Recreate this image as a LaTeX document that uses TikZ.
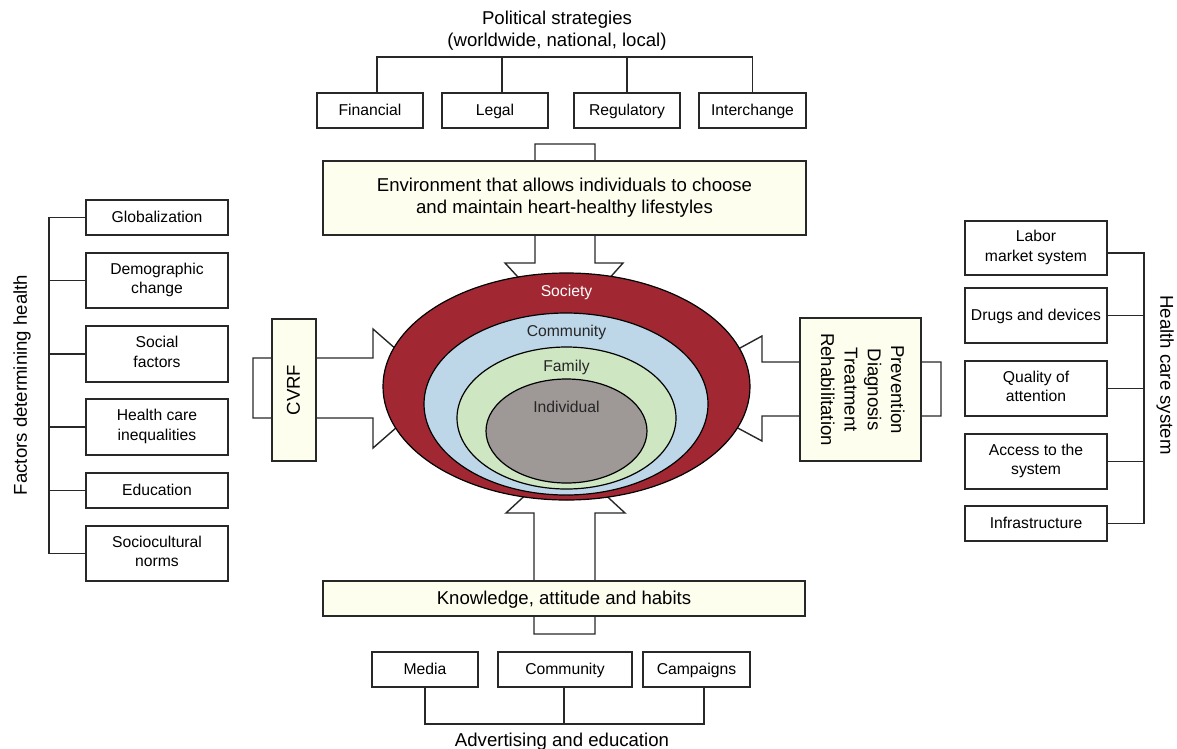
\documentclass[tikz,border=0pt]{standalone}
\usepackage{fontspec}
\setmainfont{Liberation Sans}
\usetikzlibrary{shapes.geometric}
\definecolor{cream}{RGB}{254,254,238}
\definecolor{soc}{RGB}{161,40,51}
\definecolor{com}{RGB}{189,214,232}
\definecolor{fam}{RGB}{206,230,194}
\definecolor{ind}{RGB}{158,153,150}
\definecolor{ln}{RGB}{40,40,40}
\newcommand{\sst}{\rule[-0.26em]{0pt}{1.14em}}
\begin{document}
\begin{tikzpicture}[x=1pt,y=-1pt,
  every node/.style={inner sep=0pt, outer sep=0pt},
  strutted/.style={execute at begin node={\sst}, execute at end node={\sst}},
  big/.style={font=\fontsize{18.6}{22.5}\selectfont, align=center, strutted},
  sm/.style={font=\fontsize{15.7}{19.5}\selectfont, align=center, strutted},
  box/.style={draw=ln, line width=1.4pt, fill=white, sm, inner sep=2pt},
  cbox/.style={draw=ln, line width=1.4pt, fill=cream, big, inner sep=2pt},
  conn/.style={draw=ln, line width=1.4pt},
  blk/.style={draw=ln, line width=1.4pt, fill=white, line join=miter},
  ring/.style={ellipse, draw=black, line width=1.2pt, inner sep=0pt},
]
\useasboundingbox (0,0) rectangle (1177,748);

% ---------- block arrows (behind boxes and rings)
\draw[blk] (535,144) -- (595,144) -- (595,263) -- (623,263) -- (565,328) -- (505,263) -- (535,263) -- cycle;
\draw[blk] (534,634) -- (595,634) -- (595,513) -- (625,513) -- (565.5,458) -- (506,513) -- (534,513) -- cycle;
\draw[blk] (253,358) -- (373,358) -- (373,329) -- (441,388.5) -- (373,448) -- (373,418) -- (253,418) -- cycle;
\draw[blk] (941,362) -- (762,362) -- (762,336) -- (665,389) -- (762,441) -- (762,416) -- (941,416) -- cycle;

% ---------- central boxes
\node[cbox, minimum width=483pt, minimum height=74pt] (env) at (564.5,198)
  {Environment that allows individuals to choose\\and maintain heart-healthy lifestyles};
\node[cbox, minimum width=482pt, minimum height=35pt] (kno) at (564,598.5)
  {Knowledge, attitude and habits};
\node[cbox, minimum width=142pt, minimum height=44pt, rotate=90] (cvrf) at (294,390) {CVRF};
\node[cbox, minimum width=143pt, minimum height=121pt, rotate=-90,
      font=\fontsize{18.6}{23.3}\selectfont] (pdtr) at (860.5,389.5)
  {Prevention\\Diagnosis\\Treatment\\Rehabilitation};

% ---------- rings
\node[ring, fill=soc, minimum width=367pt, minimum height=227pt] (rs) at (566.5,386.5) {};
\node[ring, fill=com, minimum width=284pt, minimum height=182pt] (rc) at (566,404) {};
\node[ring, fill=fam, minimum width=219pt, minimum height=142pt] (rf) at (566.5,418) {};
\node[ring, fill=ind, minimum width=161pt, minimum height=104pt] (ri) at (566.5,431) {};
\node[sm, text=white] (ls) at (566.5,292) {Society};
\node[sm, text=black!85] (lc) at (566.5,332) {Community};
\node[sm, text=black!85] (lf) at (566.5,367) {Family};
\node[sm, text=black!85] (li) at (566.5,408) {Individual};

% ---------- political strategies
\node[big] (pol) at (557,31) {Political strategies\\(worldwide, national, local)};
\node[box, minimum width=106pt, minimum height=35pt] (fin) at (370,110.5) {Financial};
\node[box, minimum width=106pt, minimum height=35pt] (leg) at (495,110.5) {Legal};
\node[box, minimum width=106pt, minimum height=35pt] (reg) at (627,110.5) {Regulatory};
\node[box, minimum width=107pt, minimum height=35pt] (itc) at (752.5,110.5) {Interchange};
\draw[conn] ([xshift=7pt]fin.north) -- ++(0,-36) -| (itc.north);
\draw[conn] ([xshift=7pt]leg.north) -- ++(0,-36);
\draw[conn] (reg.north) -- ++(0,-36);

% ---------- advertising and education
\node[box, minimum width=106pt, minimum height=35pt] (med) at (425,669.5) {Media};
\node[box, minimum width=134pt, minimum height=35pt] (cmb) at (565,669.5) {Community};
\node[box, minimum width=107pt, minimum height=35pt] (cmp) at (696.5,669.5) {Campaigns};
\draw[conn] (med.south) -- ++(0,37) -| ([xshift=7.5pt]cmp.south);
\draw[conn] ([xshift=-1pt]cmb.south) -- ++(0,37);
\node[font=\fontsize{18.6}{22.5}\selectfont, anchor=base] (adv) at (562,746) {Advertising and education};

% ---------- factors determining health
\node[box, minimum width=142pt, minimum height=35pt] (glo) at (157,217.5) {Globalization};
\node[box, minimum width=142pt, minimum height=55pt] (dem) at (157,280.5) {Demographic\\change};
\node[box, minimum width=142pt, minimum height=56pt] (sof) at (157,354) {Social\\factors};
\node[box, minimum width=142pt, minimum height=56pt] (hci) at (157,427) {Health care\\inequalities};
\node[box, minimum width=142pt, minimum height=35pt] (edu) at (157,490.5) {Education};
\node[box, minimum width=142pt, minimum height=55pt] (scn) at (157,553.5) {Sociocultural\\norms};
\coordinate (lb) at (49,0);
\draw[conn] (glo.west) -- (glo.west -| lb) -- (scn.west -| lb) -- (scn.west);
\draw[conn] (dem.west) -- (dem.west -| lb);
\draw[conn] (sof.west) -- (sof.west -| lb);
\draw[conn] (hci.west) -- (hci.west -| lb);
\draw[conn] (edu.west) -- (edu.west -| lb);
\node[big, rotate=90] (fdh) at (21,385) {Factors determining health};

% ---------- health care system
\node[box, minimum width=142pt, minimum height=54pt] (lab) at (1036,248) {Labor\\market system};
\node[box, minimum width=142pt, minimum height=55pt] (drg) at (1036,315.5) {Drugs and devices};
\node[box, minimum width=142pt, minimum height=55pt] (qua) at (1036,388.5) {Quality of\\attention};
\node[box, minimum width=142pt, minimum height=55pt] (acc) at (1036,461.5) {Access to the\\system};
\node[box, minimum width=142pt, minimum height=35pt] (inf) at (1036,523.5) {Infrastructure};
\coordinate (rb) at (1144,0);
\draw[conn] ([yshift=-5pt]lab.east) -- ([yshift=-5pt]lab.east -| rb) -- (inf.east -| rb) -- (inf.east);
\draw[conn] (drg.east) -- (drg.east -| rb);
\draw[conn] (qua.east) -- (qua.east -| rb);
\draw[conn] (acc.east) -- (acc.east -| rb);
\node[big, rotate=-90] (hcs) at (1166,375) {Health care system};
\end{tikzpicture}
\end{document}
